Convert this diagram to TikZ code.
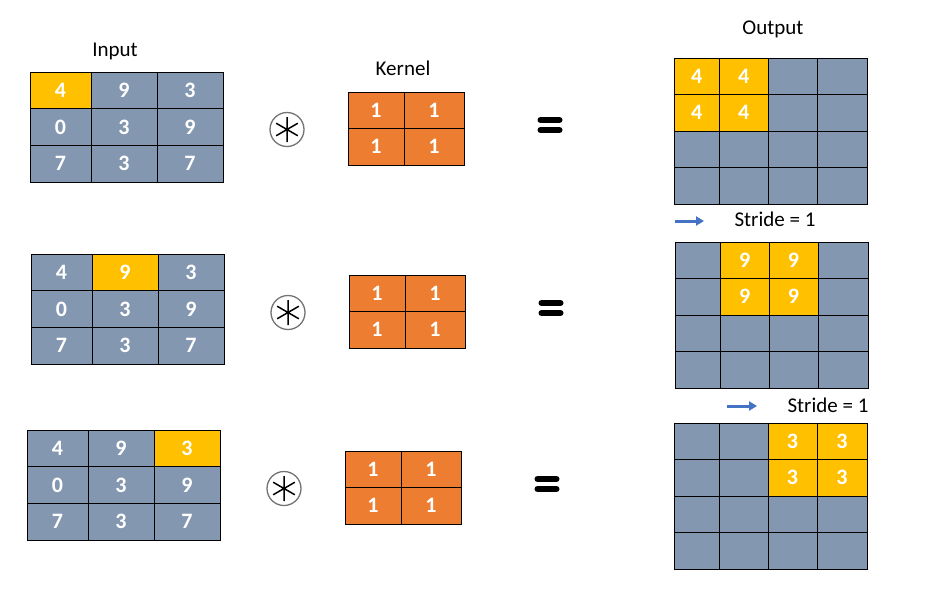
\documentclass[tikz,border=0pt]{standalone}
\usepackage{fontspec}
\setmainfont{Carlito}
\usetikzlibrary{arrows.meta}
\definecolor{gridblue}{RGB}{132,151,176}
\definecolor{hlyellow}{RGB}{255,192,0}
\definecolor{kernorange}{RGB}{237,125,49}
\definecolor{arrowblue}{RGB}{68,114,196}

\begin{document}
\begin{tikzpicture}[x=1pt,y=-1pt,cell/.style={draw=black,line width=0.9pt,fill=gridblue,inner sep=0pt,text=white,font=\fontsize{22pt}{26pt}\selectfont\bfseries},headtext/.style={inner sep=0pt,text=black,font=\fontsize{21pt}{25pt}\selectfont},conv/.style={circle,draw=black!55,line width=1.3pt,minimum size=34pt,inner sep=0pt,path picture={\draw[black,line width=1.5pt] (path picture bounding box.center) +(90:12.5pt) -- +(270:12.5pt) +(30:12.5pt) -- +(210:12.5pt) +(150:12.5pt) -- +(330:12.5pt);}},equal/.style={minimum width=26pt,minimum height=22pt,inner sep=0pt,path picture={\draw[black,line width=6pt,line cap=round] ([xshift=3.5pt,yshift=5pt]path picture bounding box.west) -- ([xshift=-3.5pt,yshift=5pt]path picture bounding box.east) ([xshift=3.5pt,yshift=-5pt]path picture bounding box.west) -- ([xshift=-3.5pt,yshift=-5pt]path picture bounding box.east);}},stride/.style={draw=arrowblue,line width=3pt,-{Triangle[length=8pt,width=9pt]}}]
\fill[white] (0,0) rectangle (939,602);
\useasboundingbox (0,0) rectangle (939,602);
\node[headtext] (inlabel) at (115,51) {Input};
\node[headtext] (klabel) at (403,68) {Kernel};
\node[headtext] (outlabel) at (773,29) {Output};
% one row per stride step: input, kernel, output
\foreach \r/\ix/\iy/\kx/\ky/\ox/\oy/\ov in {1/30/72/348/92/674/58/4,2/31/254/349/275/675/242/9,3/27/430/345/451/674/423/3}{
  \foreach \rr in {0,1,2}{
    \foreach \c/\cx/\w in {0/30.5/61,1/94/66,2/160/66}{
      \pgfmathtruncatemacro\v{{4,9,3,0,3,9,7,3,7}[3*\rr+\c]}
      \pgfmathtruncatemacro\hl{(\rr==0)&&(\c==\r-1)}
      \ifnum\hl=1 \def\cf{hlyellow}\else\def\cf{gridblue}\fi
      \node[cell,fill=\cf,minimum width=\w pt,minimum height=36.7pt] (in\r-\rr-\c) at (\ix+\cx,\iy+18.35+36.7*\rr) {\v};
    }
  }
  \node[conv] (conv\r) at (\kx-61,\ky+37.5) {};
  \foreach \rr in {0,1}{
    \foreach \c/\cx/\w in {0/28/56,1/86/60}{
      \node[cell,fill=kernorange,minimum width=\w pt,minimum height=36.5pt] (k\r-\rr-\c) at (\kx+\cx,\ky+18.25+36.5*\rr) {1};
    }
  }
  \node[equal] (eq\r) at (\kx+202,\ky+33) {};
  \foreach \rr in {0,...,3}{
    \foreach \c/\cx/\w in {0/22.75/45.5,1/69.75/48.5,2/118.5/49,3/168/50}{
      \pgfmathtruncatemacro\hl{(\rr<2)&&(\c>=\r-1)&&(\c<=\r)}
      \ifnum\hl=1 \def\cf{hlyellow}\def\ct{\ov}\else\def\cf{gridblue}\def\ct{}\fi
      \node[cell,fill=\cf,minimum width=\w pt,minimum height=36.5pt] (out\r-\rr-\c) at (\ox+\cx,\oy+18.25+36.5*\rr) {\ct};
    }
  }
}
\coordinate (s1a) at (675,221);
\coordinate (s1b) at (704,221);
\draw[stride] (s1a) -- (s1b);
\node[headtext] (s1) at (775,219) {Stride = 1};
\coordinate (s2a) at (727,406);
\coordinate (s2b) at (757,406);
\draw[stride] (s2a) -- (s2b);
\node[headtext] (s2) at (828,405) {Stride = 1};
\end{tikzpicture}
\end{document}
